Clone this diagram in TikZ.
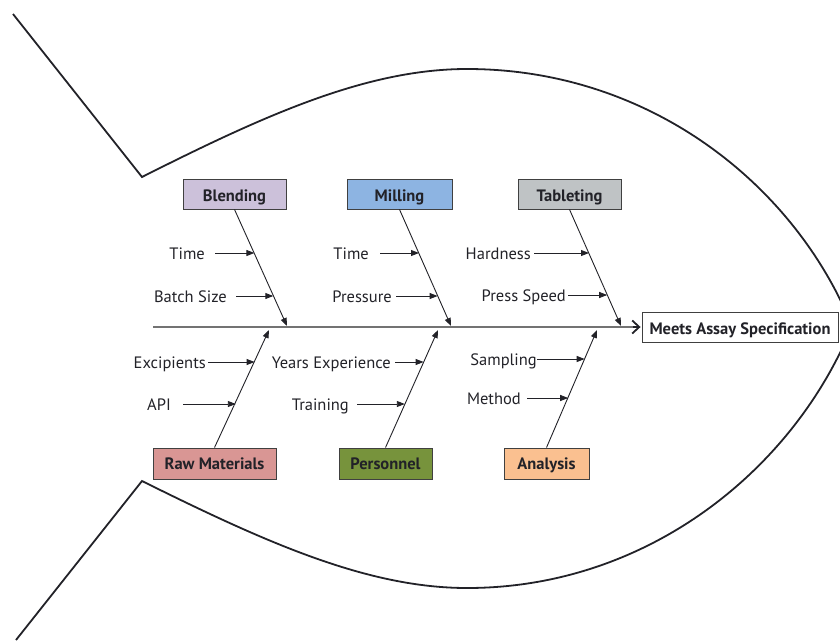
\documentclass[tikz,border=0pt]{standalone}
\usepackage{fontspec}
\setmainfont{PT Sans}
\usetikzlibrary{arrows.meta}
\definecolor{cBlend}{HTML}{CCC1DA}
\definecolor{cMill}{HTML}{8DB4E2}
\definecolor{cTab}{HTML}{BFC3C5}
\definecolor{cRaw}{HTML}{D99694}
\definecolor{cPers}{HTML}{77933C}
\definecolor{cAna}{HTML}{FAC090}
\definecolor{ink}{HTML}{222228}
\begin{document}
\begin{tikzpicture}[x=1pt,y=-1pt,
  fish/.style={line width=1.8pt, draw=ink, line join=miter},
  catbox/.style={draw=black!75, line width=0.9pt, font=\fontsize{16.5}{18}\selectfont\bfseries, text=ink, inner sep=0pt, minimum height=30pt, text height=15pt, text depth=0pt},
  lowbox/.style={catbox, minimum height=31pt, text height=11pt},
  lbl/.style={font=\fontsize{16.5}{18}\selectfont, text=ink, inner sep=0pt, text height=12.5pt, text depth=0pt, anchor=east},
  bone/.style={draw=ink, line width=0.9pt, -{Triangle[length=8pt,width=6pt]}},
  spine/.style={draw=black!55, line width=1.4pt},
  goaltip/.style={-{Straight Barb[length=7pt,width=13pt,line width=1.8pt]}}
]
\path[use as bounding box] (0,0) rectangle (840,640);
\clip (0,0) rectangle (840,640);

% fish outline
\draw[fish] (13,14) -- (142,177) .. controls (265,115) and (367,69) .. (467,69)
  .. controls (650,69) and (795,185) .. (852,326)
  .. controls (795,467) and (650,588) .. (467,588)
  .. controls (367,588) and (265,542) .. (142,481) -- (16,640);

% goal
\node[catbox, fill=white, minimum width=196pt] (goal) at (740,327) {Meets Assay Specification};

% spine
\coordinate (tail) at (153,327);
\draw[spine] (tail) -- ([xshift=-3pt]goal.west);
\draw[goaltip, draw=ink, line width=1.8pt] ([xshift=-9pt]goal.west) -- ([xshift=-1pt]goal.west);

% category boxes
\node[catbox, fill=cBlend, minimum width=103pt] (blend) at (234.5,194) {Blending};
\node[catbox, fill=cMill, minimum width=105pt] (mill) at (399.5,194) {Milling};
\node[catbox, fill=cTab, minimum width=103pt] (tab) at (569.5,194) {Tableting};
\node[lowbox, fill=cRaw, minimum width=123pt] (raw) at (214.5,463.5) {Raw Materials};
\node[lowbox, fill=cPers, minimum width=93pt] (pers) at (385.5,463.5) {Personnel};
\node[lowbox, fill=cAna, minimum width=85pt] (ana) at (546.5,463.5) {Analysis};

% bone ends on spine
\coordinate (eB) at (287,326);
\coordinate (eM) at (451,326);
\coordinate (eT) at (621,326);
\coordinate (eR) at (269,330);
\coordinate (eP) at (438,330);
\coordinate (eA) at (597,330);

\draw[bone] (blend.south) -- (eB);
\draw[bone] (mill.south) -- (eM);
\draw[bone] (tab.south) -- (eT);
\draw[bone] (raw.north) -- (eR);
\draw[bone] (pers.north) -- (eP);
\draw[bone] (ana.north) -- (eA);

% points on bones
\coordinate (b1) at (254.4,253);
\coordinate (b2) at (273.3,296);
\coordinate (m1) at (419.0,253);
\coordinate (m2) at (437.6,296);
\coordinate (t1) at (589.0,253);
\coordinate (t2) at (607.2,295);
\coordinate (r1) at (254.6,362);
\coordinate (r2) at (235.8,404);
\coordinate (p1) at (423.6,362);
\coordinate (p2) at (404.8,404);
\coordinate (a1) at (584.7,359);
\coordinate (a2) at (568.2,398);

% cause labels
\node[lbl] (lb1) at (205,253) {Time};
\node[lbl] (lb2) at (227,296) {Batch Size};
\node[lbl] (lm1) at (369,253) {Time};
\node[lbl] (lm2) at (392,296) {Pressure};
\node[lbl] (lt1) at (531,253) {Hardness};
\node[lbl] (lt2) at (566,295) {Press Speed};
\node[lbl] (lr1) at (206,362) {Excipients};
\node[lbl] (lr2) at (171,404) {API};
\node[lbl] (lp1) at (391,362) {Years Experience};
\node[lbl] (lp2) at (349,404) {Training};
\node[lbl] (la1) at (537,359) {Sampling};
\node[lbl] (la2) at (521,398) {Method};

\draw[bone] ([xshift=10pt]lb1.east) -- (b1);
\draw[bone] ([xshift=9pt]lb2.east) -- (b2);
\draw[bone] ([xshift=11pt]lm1.east) -- (m1);
\draw[bone] ([xshift=4pt]lm2.east) -- (m2);
\draw[bone] ([xshift=3pt]lt1.east) -- (t1);
\draw[bone] ([xshift=2pt]lt2.east) -- (t2);
\draw[bone] ([xshift=2pt]lr1.east) -- (r1);
\draw[bone] ([xshift=12pt]lr2.east) -- (r2);
\draw[bone] ([xshift=4pt]lp1.east) -- (p1);
\draw[bone] ([xshift=8pt]lp2.east) -- (p2);
\draw[bone] ([xshift=0pt]la1.east) -- (a1);
\draw[bone] ([xshift=6pt]la2.east) -- (a2);
\end{tikzpicture}
\end{document}
